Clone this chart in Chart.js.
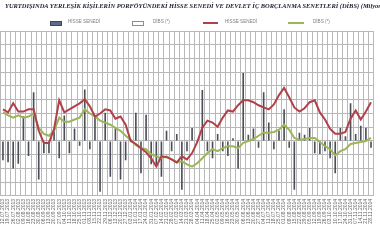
<!DOCTYPE html>
<html><head><meta charset="utf-8">
<script src="https://cdn.jsdelivr.net/npm/chart.js@4.4.1/dist/chart.umd.min.js"></script>
<style>
html,body{margin:0;padding:0;background:#fff;}
#wrap{position:relative;width:380px;height:240px;overflow:hidden;}
canvas{position:absolute;left:0;top:0;}
#title{position:absolute;left:5px;top:3px;white-space:nowrap;font:italic bold 6px "Liberation Serif","DejaVu Serif",serif;color:#1c1c30;transform-origin:0 0;}
.lg{position:absolute;top:19px;font:4.6px "Liberation Sans",Arial,sans-serif;color:#808080;white-space:nowrap;line-height:6px;}
.bx{position:absolute;height:3px;}
</style></head><body>
<div id="wrap">
<canvas id="c" width="380" height="240"></canvas>
<div id="title"><span id="tpre">YURTDIŞINDA YERLEŞİK KİŞİLERİN PORFÖYÜNDEKİ HİSSE</span> SENEDİ VE DEVLET İÇ BORÇLANMA SENETLERİ (DİBS) (Milyon ABD Doları)</div>
<div class="bx" style="left:50px;top:21px;width:10px;background:#5e6b84;border:0.5px solid #3e4658;"></div>
<div class="lg" style="left:68px;">HİSSE SENEDİ</div>
<div class="bx" style="left:132px;top:21px;width:10px;background:#fff;border:0.5px solid #8c8c8c;"></div>
<div class="lg" style="left:153px;">DİBS (*)</div>
<div class="bx" style="left:203px;top:21.5px;width:15px;height:2px;background:#b0404a;"></div>
<div class="lg" style="left:225px;">HİSSE SENEDİ</div>
<div class="bx" style="left:288px;top:21.5px;width:16px;height:2px;background:#9bb557;"></div>
<div class="lg" style="left:313px;">DİBS (*)</div>
</div>
<script>
const labels = ['12.07.2013','19.07.2013','26.07.2013','02.08.2013','09.08.2013','16.08.2013','23.08.2013','30.08.2013','06.09.2013','13.09.2013','20.09.2013','27.09.2013','04.10.2013','11.10.2013','18.10.2013','25.10.2013','01.11.2013','08.11.2013','15.11.2013','22.11.2013','29.11.2013','06.12.2013','13.12.2013','20.12.2013','27.12.2013','03.01.2014','10.01.2014','17.01.2014','24.01.2014','31.01.2014','07.02.2014','14.02.2014','21.02.2014','28.02.2014','07.03.2014','14.03.2014','21.03.2014','28.03.2014','04.04.2014','11.04.2014','18.04.2014','25.04.2014','02.05.2014','09.05.2014','16.05.2014','23.05.2014','30.05.2014','06.06.2014','13.06.2014','20.06.2014','27.06.2014','04.07.2014','11.07.2014','18.07.2014','25.07.2014','01.08.2014','08.08.2014','15.08.2014','22.08.2014','29.08.2014','05.09.2014','12.09.2014','19.09.2014','26.09.2014','03.10.2014','10.10.2014','17.10.2014','24.10.2014','31.10.2014','07.11.2014','14.11.2014','21.11.2014','28.11.2014'];

const flowHisse = [-280,-310,-400,-330,360,-220,710,-560,-180,-180,
150,-250,370,-180,180,-70,750,-120,370,-740,
410,-520,190,-560,-280,30,410,-470,380,-340,
-370,-520,150,-150,100,-710,-150,190,-30,740,
-150,-250,100,-150,-220,40,-400,990,90,180,
-100,710,270,-120,150,460,-100,-710,120,90,
190,-180,-190,-150,-250,-470,190,70,550,100,
220,190,-100];

const stockHisse = [71500,70400,73700,70700,70700,71500,71500,63700,59300,59300,
64400,74800,70400,71500,72600,73700,75200,72600,68900,70000,
71500,71100,68100,68900,65900,60000,58900,57400,55900,53700,
50700,54400,54100,53300,52200,54400,53300,55600,59600,64800,
67400,66700,65200,68500,71100,70700,73000,74800,74800,74100,
73000,72200,71500,73300,76700,79300,75900,72200,70700,71900,
74100,74800,70400,67800,64400,62600,62600,63300,68100,71100,
67800,70700,74100];

const stockDibs = [70400,69300,68500,69300,68500,68900,70000,64800,62600,61900,
63700,68500,67000,67000,67800,68500,71500,70000,68900,67400,
66700,65900,64800,63700,61900,60400,58500,57400,57000,55200,
54400,53700,54400,53300,52200,52600,51500,50700,51900,53700,
55600,57000,56300,57400,58100,58100,57400,59300,60000,60700,
61900,63000,63000,63300,64100,65900,64100,61100,60400,60700,
61100,61100,59600,58100,57000,54800,56300,57000,58900,59300,
59600,60000,61100];

(function(){
  const pre = document.getElementById('tpre');
  const w = pre.getBoundingClientRect().width;
  const s = 183 / w;
  document.getElementById('title').style.transform = 'scaleX(' + s + ')';
})();

const gridCol = '#b8b8b8';
new Chart(document.getElementById('c'), {
  data: {
    labels: labels,
    datasets: [
      {type:'line', label:'HİSSE SENEDİ', data:stockHisse, yAxisID:'y2', borderColor:'#b0404a', borderWidth:2, pointRadius:0, tension:0, order:0},
      {type:'line', label:'DİBS (*)', data:stockDibs, yAxisID:'y2', borderColor:'#9bb557', borderWidth:2, pointRadius:0, tension:0, order:0},
      {type:'bar', label:'HİSSE SENEDİ', data:flowHisse, yAxisID:'y', backgroundColor:'#4a4e58', borderWidth:0, barPercentage:0.32, categoryPercentage:1, order:1}
    ]
  },
  options: {
    responsive:false, animation:false,
    layout:{padding:{top:31, bottom:13, left:0, right:0}},
    plugins:{legend:{display:false}, title:{display:false}, tooltip:{enabled:false}},
    scales:{
      x:{
        offset:true,
        grid:{color:gridCol, lineWidth:1, offset:true, drawTicks:false},
        border:{color:gridCol},
        ticks:{autoSkip:false, minRotation:90, maxRotation:90, padding:3, color:'#666', font:{size:5, family:'Liberation Sans'}}
      },
      y:{
        position:'left', min:-800, max:1600,
        ticks:{display:false, stepSize:200},
        grid:{color:gridCol, lineWidth:1, drawTicks:false},
        border:{display:false}
      },
      y2:{
        position:'right', display:false, min:40000, max:100000
      }
    }
  }
});
</script>
</body></html>
